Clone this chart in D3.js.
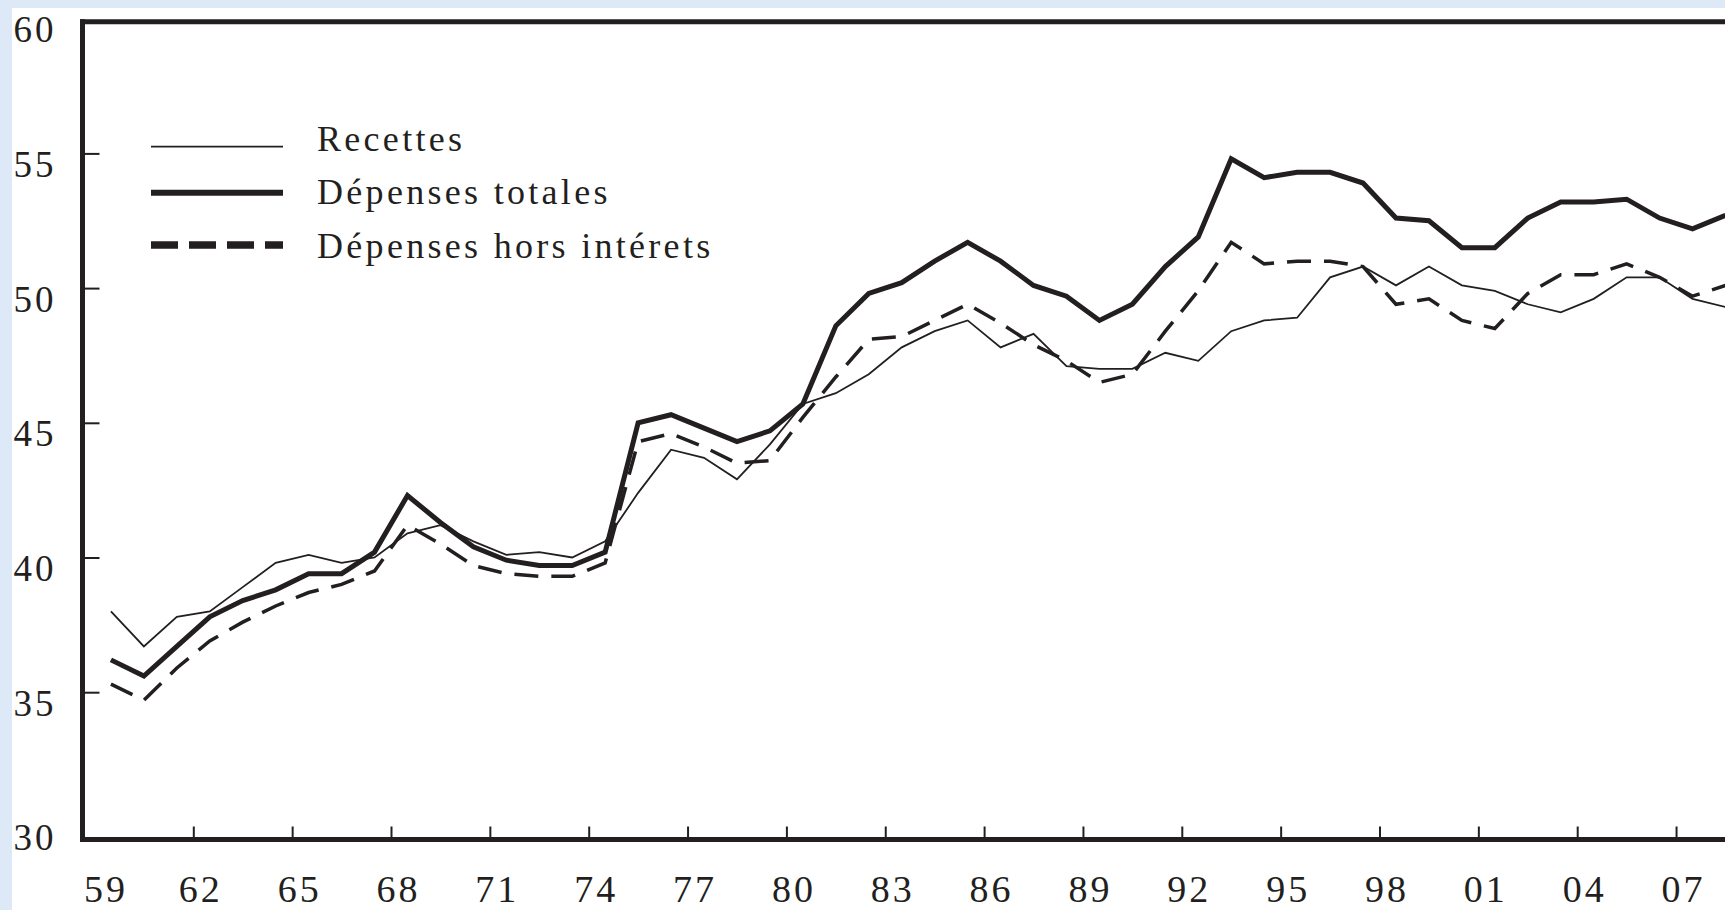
<!DOCTYPE html>
<html>
<head>
<meta charset="utf-8">
<script src="https://cdn.jsdelivr.net/npm/d3@7"></script>
<style>
  body { margin: 0; background: #fff; }
  text { font-family: "Liberation Serif", serif; fill: #231f20; }
</style>
</head>
<body>
<div id="chart"></div>
<script>
// annees (donnees placees en milieu d'annee)
var years = [1959, 1960, 1961, 1962, 1963, 1964, 1965, 1966, 1967, 1968,
	1969, 1970, 1971, 1972, 1973, 1974, 1975, 1976, 1977, 1978,
	1979, 1980, 1981, 1982, 1983, 1984, 1985, 1986, 1987, 1988,
	1989, 1990, 1991, 1992, 1993, 1994, 1995, 1996, 1997, 1998,
	1999, 2000, 2001, 2002, 2003, 2004, 2005, 2006, 2007, 2008];

var recettes = [38.0, 36.7, 37.8, 38.0, 38.9, 39.8, 40.1, 39.8, 40.0, 40.9,
	41.2, 40.6, 40.1, 40.2, 40.0, 40.6, 42.4, 44.0, 43.7, 42.9,
	44.2, 45.7, 46.1, 46.8, 47.8, 48.4, 48.8, 47.8, 48.3, 47.1,
	47.0, 47.0, 47.6, 47.3, 48.4, 48.8, 48.9, 50.4, 50.8, 50.1,
	50.8, 50.1, 49.9, 49.4, 49.1, 49.6, 50.4, 50.4, 49.6, 49.3];

var depensesTotales = [36.2, 35.6, 36.7, 37.8, 38.4, 38.8, 39.4, 39.4, 40.2, 42.3,
	41.3, 40.4, 39.9, 39.7, 39.7, 40.2, 45.0, 45.3, 44.8, 44.3,
	44.7, 45.7, 48.6, 49.8, 50.2, 51.0, 51.7, 51.0, 50.1, 49.7,
	48.8, 49.4, 50.8, 51.9, 54.8, 54.1, 54.3, 54.3, 53.9, 52.6,
	52.5, 51.5, 51.5, 52.6, 53.2, 53.2, 53.3, 52.6, 52.2, 52.7];

var depensesHorsInterets = [35.3, 34.7, 35.9, 36.9, 37.6, 38.2, 38.7, 39.0, 39.5, 41.2,
	40.5, 39.7, 39.4, 39.3, 39.3, 39.8, 44.3, 44.6, 44.1, 43.5,
	43.6, 45.2, 46.7, 48.1, 48.2, 48.8, 49.4, 48.7, 47.9, 47.3,
	46.5, 46.8, 48.4, 49.9, 51.7, 50.9, 51.0, 51.0, 50.8, 49.4,
	49.6, 48.8, 48.5, 49.8, 50.5, 50.5, 50.9, 50.4, 49.7, 50.1];

var yTickValues = [30, 35, 40, 45, 50, 55, 60];
var xTickYears = [1959, 1962, 1965, 1968, 1971, 1974, 1977, 1980, 1983, 1986,
	1989, 1992, 1995, 1998, 2001, 2004, 2007];
var xTickLabels = ["59", "62", "65", "68", "71", "74", "77", "80", "83", "86",
	"89", "92", "95", "98", "01", "04", "07"];

var seriesNames = ["Recettes", "Dépenses totales", "Dépenses hors intérets"];

var width = 1725;
var height = 910;
var ink = "#231f20";

var x = d3.scaleLinear().domain([1959, 2009]).range([94.45, 1741.95]);
var y = d3.scaleLinear().domain([30, 60]).range([826.9, 18.7]);

var svg = d3.select("#chart")
	.append("svg")
	.attr("width", width)
	.attr("height", height);

// fond bleu clair (bandeau haut + gauche)
svg.append("rect").attr("x", 0).attr("y", 0).attr("width", width).attr("height", height).attr("fill", "#dde9f7");
svg.append("rect").attr("x", 12).attr("y", 8).attr("width", width - 12).attr("height", height - 8).attr("fill", "#fff");

// axe Y : petits traits vers l'interieur
var yAxis = d3.axisLeft(y)
	.tickValues(yTickValues)
	.tickSizeInner(-17)
	.tickSizeOuter(0)
	.tickPadding(26)
	.tickFormat(d3.format("d"));

var gy = svg.append("g")
	.attr("transform", "translate(82.5,0)")
	.call(yAxis);
gy.select(".domain").remove();
gy.selectAll(".tick line")
	.attr("stroke", ink)
	.attr("stroke-width", 2)
	.attr("display", function (d) { return (d === 30 || d === 60) ? "none" : null; });
gy.selectAll(".tick text")
	.attr("dy", null)
	.attr("y", 23)
	.style("font-size", "37px")
	.style("letter-spacing", "3px");

// axe X
var xAxis = d3.axisBottom(x)
	.tickValues(xTickYears)
	.tickSizeInner(-13)
	.tickSizeOuter(0)
	.tickPadding(37)
	.tickFormat(function (d, i) { return xTickLabels[i]; });

var gx = svg.append("g")
	.attr("transform", "translate(0,839.5)")
	.call(xAxis);
gx.select(".domain").remove();
gx.selectAll(".tick line")
	.attr("stroke", ink)
	.attr("stroke-width", 2)
	.attr("display", function (d) { return d === 1959 ? "none" : null; });
gx.selectAll(".tick text")
	.attr("dx", function (d) { return d === 1959 ? 11 : 7; })
	.attr("dy", "0.68em")
	.style("font-size", "38px")
	.style("letter-spacing", "3px");

// cadre
svg.append("line").attr("x1", 80).attr("x2", width).attr("y1", 21.7).attr("y2", 21.7)
	.attr("stroke", ink).attr("stroke-width", 5);
svg.append("line").attr("x1", 80).attr("x2", width).attr("y1", 839.5).attr("y2", 839.5)
	.attr("stroke", ink).attr("stroke-width", 5);
svg.append("line").attr("x1", 82.5).attr("x2", 82.5).attr("y1", 19.2).attr("y2", 842)
	.attr("stroke", ink).attr("stroke-width", 5);

// courbes
function toPoints(values) {
	return values.map(function (v, i) { return { year: years[i], value: v }; });
}

var valueline = d3.line()
	.x(function (d) { return x(d.year + 0.5); })
	.y(function (d) { return y(d.value); });

var plot = svg.append("g");

plot.append("path")
	.attr("d", valueline(toPoints(recettes)))
	.attr("fill", "none")
	.attr("stroke", ink)
	.attr("stroke-width", 1.8);

plot.append("path")
	.attr("d", valueline(toPoints(depensesHorsInterets)))
	.attr("fill", "none")
	.attr("stroke", ink)
	.attr("stroke-width", 3.5)
	.attr("stroke-dasharray", "24,13");

plot.append("path")
	.attr("d", valueline(toPoints(depensesTotales)))
	.attr("fill", "none")
	.attr("stroke", ink)
	.attr("stroke-width", 5);

// legende
var legend = svg.append("g");
var legendRows = [
	{ name: seriesNames[0], ly: 146.7, ty: 150.5, w: 1.8, dash: null },
	{ name: seriesNames[1], ly: 192.7, ty: 203.5, w: 6, dash: null },
	{ name: seriesNames[2], ly: 245, ty: 257.5, w: 7.5, dash: "27,11" }
];
legendRows.forEach(function (r) {
	legend.append("line")
		.attr("x1", 151).attr("x2", 283)
		.attr("y1", r.ly).attr("y2", r.ly)
		.attr("stroke", ink)
		.attr("stroke-width", r.w)
		.attr("stroke-dasharray", r.dash);
	legend.append("text")
		.attr("x", 317)
		.attr("y", r.ty)
		.style("font-size", "36px")
		.style("letter-spacing", "3.3px")
		.text(r.name);
});
</script>
</body>
</html>
